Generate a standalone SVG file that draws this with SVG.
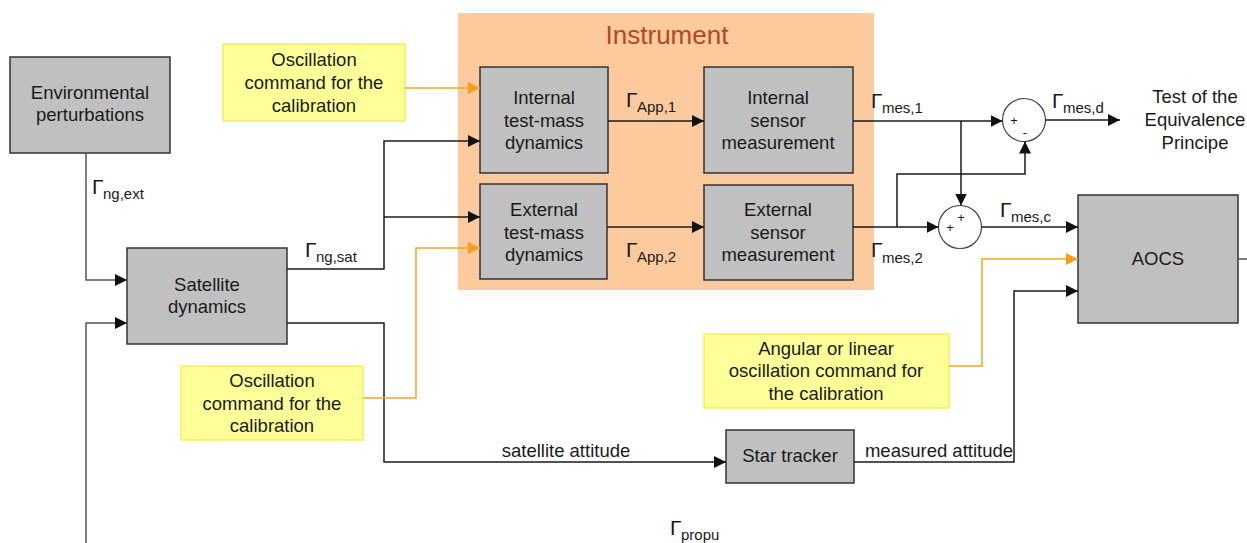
<svg xmlns="http://www.w3.org/2000/svg" width="1247" height="543" viewBox="0 0 1247 543">
<style>
text{font-family:"Liberation Sans",Arial,sans-serif;fill:#1a1a1a}
.box{fill:#c0c0c0;stroke:#333;stroke-width:1.5}
.note{fill:#ffff99;stroke:#f5ee5a;stroke-width:1.5}
.t{font-size:18.5px;text-anchor:middle}
.ln{fill:none;stroke:#1a1a1a;stroke-width:1.5}
.gl{fill:none;stroke:#555;stroke-width:1.5}
.or{fill:none;stroke:#f5a623;stroke-width:1.5}
.G{font-size:21px}
.s{font-size:15px}
.sg{font-size:13px;text-anchor:middle}
.sum{fill:#fff;stroke:#444;stroke-width:1.2}
</style>
<defs>
<marker id="a" markerUnits="userSpaceOnUse" markerWidth="14" markerHeight="12" refX="12" refY="6" orient="auto"><path d="M0,0 L12,6 L0,12 Z" fill="#111"/></marker>
<marker id="o" markerUnits="userSpaceOnUse" markerWidth="14" markerHeight="12" refX="12" refY="6" orient="auto"><path d="M0,0 L12,6 L0,12 Z" fill="#f5a01a"/></marker>
</defs>
<rect width="1247" height="543" fill="#fff"/>
<g id="instrument">
<rect x="458" y="13" width="416" height="277" fill="#fcca9c"/>
<text x="667" y="44" font-size="26" text-anchor="middle" style="fill:#b5481c">Instrument</text>
</g>
<g id="env">
<rect class="box" x="10" y="57" width="160" height="96"/>
<text class="t" x="90" y="99">Environmental</text>
<text class="t" x="90" y="121">perturbations</text>
</g>
<g id="sat">
<rect class="box" x="127" y="248" width="160" height="96"/>
<text class="t" x="207" y="291">Satellite</text>
<text class="t" x="207" y="313">dynamics</text>
</g>
<g id="osc1">
<rect class="note" x="223" y="44" width="182" height="77"/>
<text class="t" x="314" y="66">Oscillation</text>
<text class="t" x="314" y="89">command for the</text>
<text class="t" x="314" y="112">calibration</text>
</g>
<g id="osc2">
<rect class="note" x="181" y="366" width="182" height="74"/>
<text class="t" x="272" y="387">Oscillation</text>
<text class="t" x="272" y="410">command for the</text>
<text class="t" x="272" y="432">calibration</text>
</g>
<g id="osc3">
<rect class="note" x="704" y="334" width="245" height="74"/>
<text class="t" x="826" y="355">Angular or linear</text>
<text class="t" x="826" y="377">oscillation command for</text>
<text class="t" x="826" y="400">the calibration</text>
</g>
<g id="itm">
<rect class="box" x="480" y="67" width="128" height="106"/>
<text class="t" x="544" y="104">Internal</text>
<text class="t" x="544" y="127">test-mass</text>
<text class="t" x="544" y="149">dynamics</text>
</g>
<g id="etm">
<rect class="box" x="480" y="184" width="127" height="95"/>
<text class="t" x="544" y="216">External</text>
<text class="t" x="544" y="239">test-mass</text>
<text class="t" x="544" y="261">dynamics</text>
</g>
<g id="ism">
<rect class="box" x="704" y="67" width="149" height="106"/>
<text class="t" x="778" y="104">Internal</text>
<text class="t" x="778" y="127">sensor</text>
<text class="t" x="778" y="149">measurement</text>
</g>
<g id="esm">
<rect class="box" x="704" y="185" width="149" height="95"/>
<text class="t" x="778" y="216">External</text>
<text class="t" x="778" y="239">sensor</text>
<text class="t" x="778" y="261">measurement</text>
</g>
<g id="sum1">
<circle class="sum" cx="1024" cy="120" r="21.5"/>
<text class="sg" x="1014" y="125">+</text>
<text class="sg" x="1025" y="137">-</text>
</g>
<g id="sum2">
<circle class="sum" cx="960" cy="227" r="21.5"/>
<text class="sg" x="950" y="232">+</text>
<text class="sg" x="961" y="222">+</text>
</g>
<g id="aocs">
<rect class="box" x="1078" y="195" width="160" height="128"/>
<text class="t" x="1158" y="265">AOCS</text>
</g>
<g id="star">
<rect class="box" x="726" y="430" width="128" height="53"/>
<text class="t" x="790" y="462">Star tracker</text>
</g>
<g id="tep">
<text class="t" x="1195" y="103">Test of the</text>
<text class="t" x="1195" y="126">Equivalence</text>
<text class="t" x="1195" y="149">Principe</text>
</g>
<g id="connectors">
<path class="gl" d="M86,153 V280 H127" marker-end="url(#a)"/>
<path class="gl" d="M86,543 V323 H127" marker-end="url(#a)"/>
<path class="ln" d="M287,269 H384 V141 H480" marker-end="url(#a)"/>
<path class="ln" d="M384,217 H480" marker-end="url(#a)"/>
<path class="ln" d="M287,323 H384 V462 H726" marker-end="url(#a)"/>
<path class="or" d="M405,88 H480" marker-end="url(#o)"/>
<path class="or" d="M363,398 H416 V248 H480" marker-end="url(#o)"/>
<path class="ln" d="M608,121 H704" marker-end="url(#a)"/>
<path class="ln" d="M607,227 H704" marker-end="url(#a)"/>
<path class="ln" d="M853,121 H1002.5" marker-end="url(#a)"/>
<path class="ln" d="M961,121 V205.5" marker-end="url(#a)"/>
<path class="ln" d="M853,227 H938.5" marker-end="url(#a)"/>
<path class="ln" d="M897,227 V174 H1025 V141.5" marker-end="url(#a)"/>
<path class="ln" d="M1045.5,120 H1120" marker-end="url(#a)"/>
<path class="ln" d="M981.5,227 H1078" marker-end="url(#a)"/>
<path class="or" d="M949,366 H982 V259 H1078" marker-end="url(#o)"/>
<path class="ln" d="M854,462 H1014 V291 H1078" marker-end="url(#a)"/>
<path class="gl" d="M1238,259 H1247"/>
</g>
<g id="labels">
<text x="92" y="194"><tspan class="G">Γ</tspan><tspan class="s" x="103" y="199">ng,ext</tspan></text>
<text x="305" y="257"><tspan class="G">Γ</tspan><tspan class="s" x="316" y="262">ng,sat</tspan></text>
<text x="626" y="107"><tspan class="G">Γ</tspan><tspan class="s" x="637" y="112">App,1</tspan></text>
<text x="626" y="257"><tspan class="G">Γ</tspan><tspan class="s" x="637" y="262">App,2</tspan></text>
<text x="871" y="108"><tspan class="G">Γ</tspan><tspan class="s" x="882" y="113">mes,1</tspan></text>
<text x="871" y="257"><tspan class="G">Γ</tspan><tspan class="s" x="882" y="263">mes,2</tspan></text>
<text x="1052" y="108"><tspan class="G">Γ</tspan><tspan class="s" x="1063" y="113">mes,d</tspan></text>
<text x="1000" y="217"><tspan class="G">Γ</tspan><tspan class="s" x="1011" y="222">mes,c</tspan></text>
<text x="670" y="535"><tspan class="G">Γ</tspan><tspan class="s" x="681" y="540">propu</tspan></text>
<text class="t" x="566" y="457">satellite attitude</text>
<text class="t" x="939" y="457">measured attitude</text>
</g>
</svg>
